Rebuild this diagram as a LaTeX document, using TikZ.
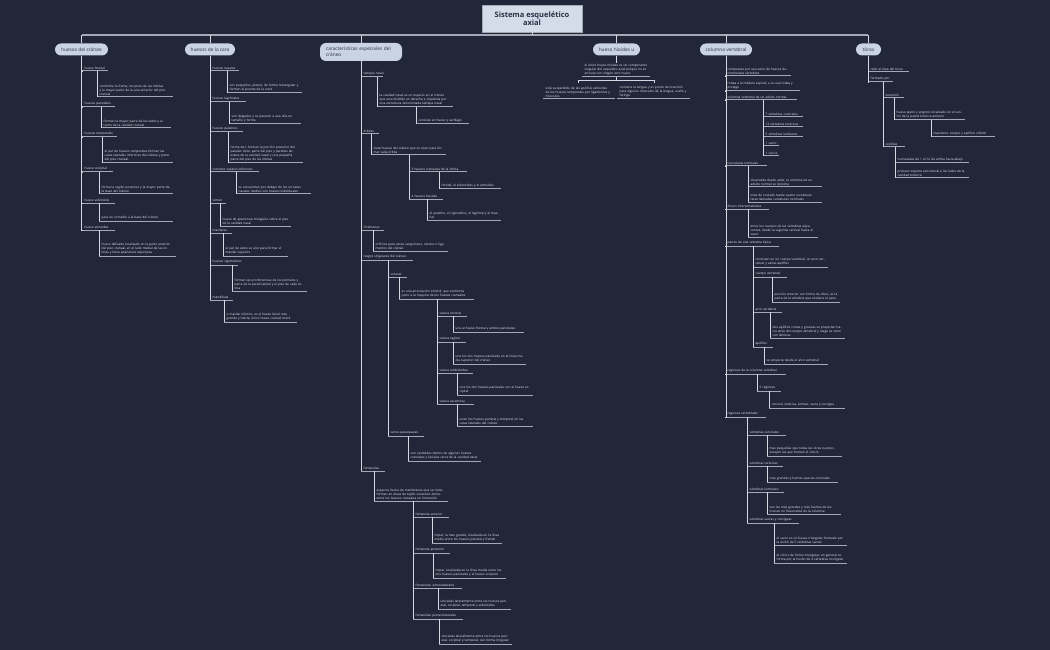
\documentclass[tikz,border=0pt]{standalone}
\usepackage{fontspec}
\setmainfont{Open Sans}
\begin{document}
\definecolor{bg}{HTML}{222639}
\definecolor{tx}{HTML}{E6E8EE}
\definecolor{ul}{HTML}{A3A8B5}
\definecolor{cn}{HTML}{D5D8E0}
\definecolor{pill}{HTML}{C9D3E3}
\definecolor{dk}{HTML}{2A2F45}
\newcommand\itm[5]{\pgfmathsetmacro\tw{#4-#2-5}\node[itm,text width=\tw pt] (#1) at (#2,#3) {#5};}
\newcommand\lb[5]{\pgfmathsetmacro\tw{#4-#2-5}\node[itm,text width=\tw pt] (#1) at (#2,#3) {\mbox{#5}};}
\newcommand\cn[3]{\draw[conn] (#1.south west -| #2,0) |- (#3.south west);}
\newcommand\pc[2]{\draw[conn] (#1.south) |- (#2.south west);}
\begin{tikzpicture}[x=1pt,y=-1pt,
 itm/.style={anchor=south west,inner xsep=2.5pt,inner ysep=1.3pt,align=left,text=tx,
   font=\fontsize{3.15}{4.1}\selectfont,
   append after command={(\tikzlastnode.south west) edge[uline] (\tikzlastnode.south east)}},
 uline/.style={draw=ul,line width=1pt},
 conn/.style={draw=cn,line width=0.6pt},
 pil/.style={fill=pill,rounded corners=6pt,text=dk,font=\fontsize{4.8}{5.8}\selectfont,inner sep=0pt,align=left,minimum height=12pt}]
\fill[bg] (0,0) rectangle (1050,650);
\useasboundingbox (0,0) rectangle (1050,650);
% title
\node[fill=pill!80!white,draw=ul,line width=0.8pt,minimum width=100pt,minimum height=27pt,align=center,text=dk,font=\fontsize{7.5}{8.5}\selectfont\bfseries] (t) at (532,18.5) {Sistema esquelético\\axial};
\coordinate (bl) at (82,35); \coordinate (br) at (868,35);
\draw[draw=ul,line width=1.2pt] (bl) -- (br);
\draw[conn] (t.south) -- (t.south |- bl);
% pills
\node[pil,minimum width=53pt] (p1) at (81.5,49.5) {huesos del cráneo};
\node[pil,minimum width=50pt] (p2) at (210,49.5) {huesos de la cara};
\node[pil,minimum width=82pt,minimum height=18pt,text width=70pt] (p3) at (361,52) {características especiales del cráneo};
\node[pil,minimum width=47pt] (p4) at (616.5,49.5) {hueso hioides u};
\node[pil,minimum width=52pt] (p5) at (726,49.5) {columna vertebral};
\node[pil,minimum width=25pt] (p6) at (868.5,49.5) {tórax};
\foreach \p in {p1,p2,p3,p4,p5,p6}{\draw[conn] (\p.north |- bl) -- (\p.north);}
% ---- craneo
\lb{c1}{82}{71}{108}{hueso frontal}
\itm{c1a}{97}{97}{173}{conforma la frente, los pisos de las órbitas y la mayor parte de la cara anterior del piso craneal}
\lb{c2}{82}{107}{115}{huesos parietales}
\itm{c2a}{101}{128}{171}{forman la mayor parte de los lados y el techo de la cavidad craneal}
\lb{c3}{82}{137}{117}{huesos temporales}
\itm{c3a}{102}{163}{173}{el par de huesos temporales forman las caras laterales inferiores del cráneo y parte del piso craneal.}
\lb{c4}{82}{172}{113}{hueso occipital}
\itm{c4a}{99}{194}{173}{forma la región posterior y la mayor parte de la base del cráneo}
\lb{c5}{82}{203}{115}{hueso esfenoide}
\lb{c5a}{99}{221}{173}{yace en el medio a la base del cráneo}
\lb{c6}{82}{230}{115}{hueso etmoides}
\itm{c6a}{99}{256}{176}{hueso delicado localizado en la parte anterior del piso craneal, en el lado medial de las órbitas y tiene apariencia esponjosa}
\foreach \c in {c1,c2,c3,c4,c5,c6}{\pc{p1}{\c}}
\cn{c1}{97}{c1a}\cn{c2}{101}{c2a}\cn{c3}{102}{c3a}\cn{c4}{99}{c4a}\cn{c5}{99}{c5a}\cn{c6}{99}{c6a}
% ---- cara
\lb{f1}{210}{71}{239}{huesos nasales}
\itm{f1a}{227}{93}{302}{son pequeños, planos, de forma rectangular y forman el puente de la nariz}
\lb{f2}{210}{102}{246}{huesos lagrimales}
\itm{f2a}{229}{124}{301}{son delgados y se parecen a una uña en tamaño y forma}
\lb{f3}{210}{132}{243}{huesos palatinos}
\itm{f3a}{228}{163}{303}{forma de L forman la porción posterior del paladar duro, parte del piso y paredes laterales de la cavidad nasal y una pequeña parte del piso de las órbitas}
\lb{f4}{210}{172}{259}{cornetes nasales inferiores}
\itm{f4a}{236}{194}{311}{se encuentran por debajo de los cornetes nasales medios son huesos individuales}
\lb{f5}{210}{203}{226}{vómer}
\itm{f5a}{220}{226}{291}{hueso de apariencia triangular sobre el piso de la cavidad nasal}
\lb{f6}{210}{233}{232}{maxilares}
\itm{f6a}{223}{256}{288}{el par de estos se une para formar el maxilar superior}
\lb{f7}{210}{265}{238}{huesos cigomáticos}
\itm{f7a}{232}{291}{307}{forman las prominencias de los pómulos y parte de la pared lateral y el piso de cada órbita}
\lb{f8}{210}{300}{233}{mandíbula}
\itm{f8a}{224}{322}{297}{o maxilar inferior, es el hueso facial mas grande y fuerte, único hueso craneal móvil}
\foreach \c in {f1,f2,f3,f4,f5,f6,f7,f8}{\pc{p2}{\c}}
\cn{f1}{227}{f1a}\cn{f2}{229}{f2a}\cn{f3}{228}{f3a}\cn{f4}{236}{f4a}\cn{f5}{220}{f5a}\cn{f6}{223}{f6a}\cn{f7}{232}{f7a}\cn{f8}{224}{f8a}
% ---- caracteristicas
\lb{e1}{361}{77}{383}{tabique nasal}
\itm{e1a}{377}{107}{453}{la cavidad nasal es un espacio en el cráneo que esta dividido en derecha e izquierda por una estructura denominada tabique nasal}
\lb{e1b}{416}{124}{469}{consiste en hueso y cartílago}
\lb{e2}{361}{134}{379}{órbitas}
\itm{e2a}{371}{155}{446}{siete huesos del cráneo que se unen para formar cada órbita}
\lb{e2b}{409}{172}{467}{3 huesos craneales de la órbita}
\lb{e2c}{439}{189}{501}{frontal, el esfenoides y el etmoides}
\lb{e2d}{409}{199}{443}{4 huesos faciales}
\itm{e2e}{427}{220}{501}{el palatino, el cigomático, el lagrimal y el maxilar}
\lb{e3}{361}{230}{384}{forámenes}
\itm{e3a}{373}{251}{448}{orificios para vasos sanguíneos, nervios o ligamentos del cráneo}
\lb{e4}{361}{260}{413}{rasgos singulares del cráneo}
\lb{e5}{388}{277}{407}{suturas}
\itm{e5a}{399}{299}{474}{es una articulación inmóvil, que conforma junto a la mayoría de los huesos craneales}
\lb{s1}{437}{316}{467}{sutura coronal}
\lb{s1a}{453}{332}{524}{une al hueso frontal y ambos parietales}
\lb{s2}{437}{342}{466}{sutura sagital}
\itm{s2a}{453}{364}{526}{une los dos huesos parietales en la línea media superior del cráneo}
\lb{s3}{437}{373}{473}{sutura lambdoidea}
\itm{s3a}{457}{395}{533}{une los dos huesos parietales con el hueso occipital}
\lb{s4}{437}{404}{474}{sutura escamosa}
\itm{s4a}{457}{426}{533}{unen los huesos parietal y temporal en las caras laterales del cráneo}
\lb{e6}{388}{436}{424}{senos paranasales}
\itm{e6a}{408}{461}{481}{son cavidades dentro de algunos huesos craneales y faciales cerca de la cavidad nasal}
\lb{e7}{361}{471}{385}{fontanelas}
\itm{e7a}{374}{501}{448}{espacios llenos de membranas que se transforman en áreas de tejido conectivo denso entre los huesos craneales en formación}
\lb{n1}{413}{517}{449}{fontanela anterior}
\itm{n1a}{432}{543}{502}{impar, la mas grande, localizada en la línea media entre los huesos parietal y frontal}
\lb{n2}{413}{553}{450}{fontanela posterior}
\itm{n2a}{433}{578}{506}{impar, localizada en la línea media entre los dos huesos parietales y el hueso occipital}
\lb{n3}{413}{588}{462}{fontanelas anterolaterales}
\itm{n3a}{438}{609}{511}{ubicadas lateralmente entre los huesos parietal, occipital, temporal y esfenoides}
\lb{n4}{413}{619}{463}{fontanelas posterolaterales}
\itm{n4a}{439}{644}{512}{ubicadas lateralmente entre los huesos parietal, occipital y temporal; son forma irregular}
\foreach \c in {e1,e2,e3,e4,e7}{\pc{p3}{\c}}
\cn{e1}{377}{e1a}\cn{e1a}{416}{e1b}
\cn{e2}{371}{e2a}\cn{e2a}{409}{e2b}\cn{e2a}{409}{e2d}\cn{e2b}{439}{e2c}\cn{e2d}{427}{e2e}
\cn{e3}{373}{e3a}
\cn{e4}{388}{e5}\cn{e4}{388}{e6}\cn{e5}{399}{e5a}
\foreach \c in {s1,s2,s3,s4}{\cn{e5a}{437}{\c}}
\cn{s1}{453}{s1a}\cn{s2}{453}{s2a}\cn{s3}{457}{s3a}\cn{s4}{457}{s4a}
\cn{e6}{408}{e6a}
\cn{e7}{374}{e7a}
\foreach \c in {n1,n2,n3,n4}{\cn{e7a}{413}{\c}}
\cn{n1}{432}{n1a}\cn{n2}{433}{n2a}\cn{n3}{438}{n3a}\cn{n4}{439}{n4a}
% ---- hioides
\itm{h1}{582}{77}{650}{el único hueso hioides es un componente singular del esqueleto axial porque no se articula con ningún otro hueso}
\itm{h2}{543}{99}{615}{está suspendido de las apófisis estiloides de los huesos temporales por ligamentos y músculos}
\itm{h3}{617}{99}{690}{contiene la lengua y es punto de inserción para algunos músculos de la lengua, cuello y faringe}
\draw[conn] (p4.south) -- (p4.south |- h1.north);
\coordinate (hb) at (616,80);
\draw[conn] (h1.south -| hb) -- (hb);
\draw[conn] (578,83) -- (578,80) -- (654,80) -- (654,83);
% ---- columna
\itm{v1}{725}{76}{791}{compuesta por una serie de huesos denominados vértebras}
\itm{v2}{725}{91}{800}{rodea a la médula espinal, a la cual rodea y protege}
\lb{v3}{725}{100}{797}{columna vertebral de un adulto normal}
\lb{v3a}{763}{117}{803}{7 vértebras cervicales}
\lb{v3b}{763}{127}{803}{12 vértebras torácicas}
\lb{v3c}{763}{137}{803}{5 vértebras lumbares}
\lb{v3d}{763}{146}{779}{1 sacro}
\lb{v3e}{763}{156}{779}{1 cóccix}
\lb{v4}{725}{166}{767}{curvaturas normales}
\itm{v4a}{748}{187}{822}{observada desde atrás, la columna de un adulto normal es derecha}
\itm{v4b}{748}{202}{822}{vista de costado revela cuatro curvaturas leves llamadas curvaturas normales}
\lb{v5}{725}{209}{769}{discos intervertebrales}
\itm{v5a}{748}{237}{818}{entre los cuerpos de las vértebras adyacentes, desde la segunda cervical hasta el sacro}
\lb{v6}{725}{246}{779}{partes de una vértebra típica}
\itm{v6a}{753}{267}{828}{consisten en un cuerpo vertebral, un arco vertebral y varias apófisis}
\lb{v6b}{753}{277}{787}{cuerpo vertebral}
\itm{v6c}{772}{302}{840}{porción anterior con forma de disco, es la parte de la vértebra que sostiene el peso}
\lb{v6d}{753}{312}{782}{arco vertebral}
\itm{v6e}{770}{338}{845}{dos apófisis cortas y gruesas se proyectan hacia atrás del cuerpo vertebral y luego se unen con láminas}
\lb{v6f}{753}{347}{773}{apófisis}
\lb{v6g}{764}{364}{828}{se proyecta desde el arco vertebral}
\lb{v7}{725}{374}{786}{regiones de la columna vertebral}
\lb{v7a}{757}{391}{781}{5 regiones}
\lb{v7b}{769}{408}{845}{cervical, torácica, lumbar, sacra y coccígea}
\lb{v8}{725}{417}{766}{regiones vertebrales}
\lb{r1}{747}{435}{786}{vértebras cervicales}
\itm{r1a}{767}{456}{842}{mas pequeñas que todas las otras cuerpos, excepto las que forman el cóccix}
\lb{r2}{747}{466}{783}{vértebras torácicas}
\lb{r2a}{767}{482}{838}{mas grandes y fuertes que las cervicales}
\lb{r3}{747}{492}{784}{vértebras lumbares}
\itm{r3a}{767}{514}{841}{son las más grandes y más fuertes de los huesos no fusionados de la columna}
\lb{r4}{747}{523}{799}{vértebras sacras y coccígeas}
\itm{r4a}{774}{545}{847}{el sacro es un hueso triangular formado por la unión de 5 vértebras sacras}
\itm{r4b}{774}{563}{847}{el cóccix de forma triangular, en general se forma por la fusión de 4 vértebras coccígeas}
\foreach \c in {v1,v2,v3,v4,v5,v6,v7,v8}{\pc{p5}{\c}}
\foreach \c in {v3a,v3b,v3c,v3d,v3e}{\cn{v3}{763}{\c}}
\cn{v4}{748}{v4a}\cn{v4}{748}{v4b}\cn{v5}{748}{v5a}
\foreach \c in {v6a,v6b,v6d,v6f}{\cn{v6}{753}{\c}}
\cn{v6b}{772}{v6c}\cn{v6d}{770}{v6e}\cn{v6f}{764}{v6g}
\cn{v7}{757}{v7a}\cn{v7a}{769}{v7b}
\foreach \c in {r1,r2,r3,r4}{\cn{v8}{747}{\c}}
\cn{r1}{767}{r1a}\cn{r2}{767}{r2a}\cn{r3}{767}{r3a}\cn{r4}{774}{r4a}\cn{r4}{774}{r4b}
% ---- torax
\lb{x1}{868}{72}{909}{todo el área del torso}
\lb{x2}{868}{82}{893}{formado por}
\lb{x3}{883}{98}{904}{esternón}
\itm{x3a}{894}{120}{965}{hueso plano y angosto localizado en el centro de la pared torácica anterior}
\lb{x3b}{931}{137}{995}{manubrio, cuerpo y apófisis xifoide}
\lb{x4}{883}{147}{905}{costillas}
\lb{x4a}{895}{163}{969}{numeradas de 1 al 12 de arriba hacia abajo}
\itm{x4b}{895}{178}{969}{proveen soporte estructural a los lados de la cavidad torácica}
\pc{p6}{x1}\pc{p6}{x2}
\cn{x2}{883}{x3}\cn{x2}{883}{x4}\cn{x3}{894}{x3a}\cn{x3a}{931}{x3b}\cn{x4}{895}{x4a}\cn{x4}{895}{x4b}
\end{tikzpicture}
\end{document}
